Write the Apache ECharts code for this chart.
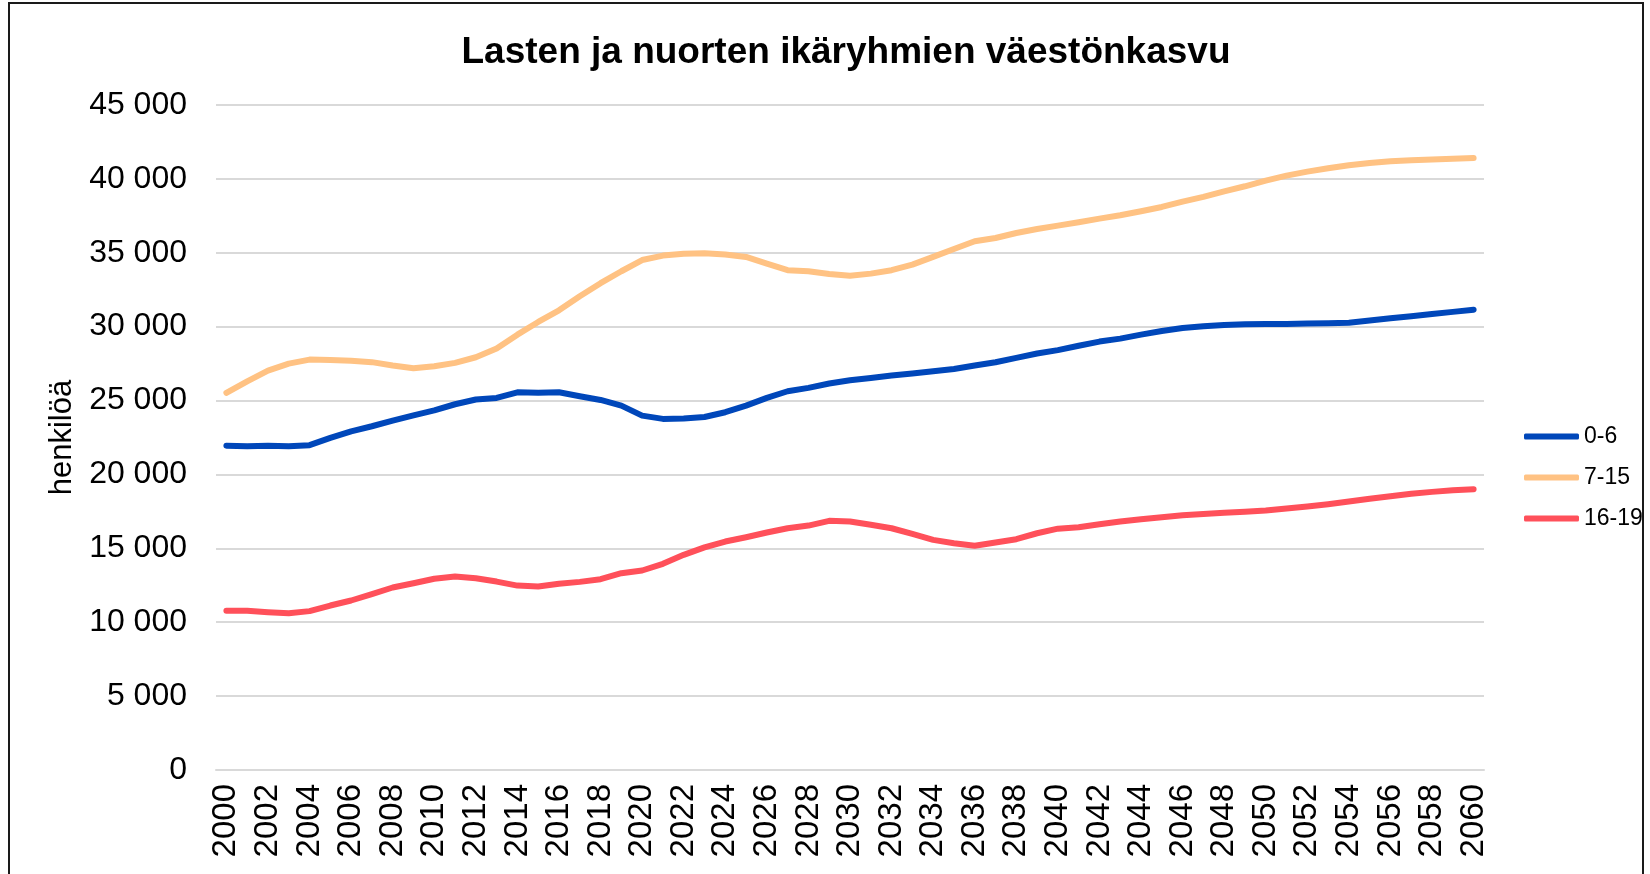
<!DOCTYPE html>
<html>
<head>
<meta charset="utf-8">
<script src="https://cdn.jsdelivr.net/npm/echarts@6/dist/echarts.min.js"></script>
<style>
  html, body { margin: 0; padding: 0; background: #fff; }
  #frame { position: absolute; left: 8px; top: 2px; width: 1636px; height: 900px; border: 2px solid #1a1a1a; box-sizing: border-box; }
  #main { position: absolute; left: 0; top: 0; width: 1650px; height: 874px; }
</style>
</head>
<body>
<div id="frame"></div>
<div id="main"></div>
<script>
// vuodet 2000-2060
var years = [];
for (var y = 2000; y <= 2060; y++) years.push(String(y));

var age0to6 = [
  21950, 21910, 21950, 21900, 21980, 22470, 22920, 23260, 23640, 24000,
  24340, 24750, 25070, 25180, 25560, 25520, 25560, 25290, 25040, 24660,
  23980, 23760, 23780, 23890, 24210, 24660, 25180, 25630, 25860, 26150,
  26370, 26530, 26690, 26830, 26980, 27140, 27370, 27590, 27890, 28180,
  28410, 28710, 28990, 29190, 29460, 29710, 29910, 30030, 30120, 30160,
  30180, 30180, 30210, 30230, 30270, 30410, 30570, 30700, 30860, 31000,
  31150
];
var age7to15 = [
  25520, 26300, 27030, 27500, 27770, 27750, 27700, 27600, 27370, 27190,
  27320, 27550, 27930, 28520, 29460, 30320, 31110, 32060, 32940, 33750,
  34510, 34810, 34940, 34970, 34880, 34720, 34270, 33820, 33750, 33570,
  33450, 33590, 33820, 34200, 34720, 35260, 35780, 36000, 36340, 36610,
  36840, 37060, 37310, 37540, 37810, 38100, 38460, 38780, 39160, 39500,
  39880, 40220, 40490, 40720, 40920, 41080, 41190, 41260, 41320, 41370,
  41410
];
var age16to19 = [
  10770, 10770, 10680, 10610, 10750, 11130, 11470, 11900, 12350, 12640,
  12940, 13090, 12980, 12750, 12480, 12420, 12600, 12730, 12910, 13320,
  13500, 13950, 14560, 15060, 15460, 15750, 16070, 16360, 16540, 16860,
  16810, 16590, 16360, 15980, 15570, 15350, 15170, 15390, 15620, 16020,
  16330, 16430, 16630, 16810, 16970, 17110, 17240, 17330, 17400, 17470,
  17560, 17690, 17830, 17990, 18170, 18350, 18530, 18690, 18820, 18930,
  19000
];

var seriesNames = ["0-6", "7-15", "16-19"];
var seriesColors = ["#0047BA", "#FFC283", "#FF505A"];
var font = "'Liberation Sans', Arial, sans-serif";

function fmt(v) {
  return String(v).replace(/\B(?=(\d{3})+(?!\d))/g, " ");
}

var myChart = echarts.init(document.getElementById("main"));
var option = {
  animation: false,
  title: {
    text: "Lasten ja nuorten ikäryhmien väestönkasvu",
    left: 841,
    top: 29,
    textAlign: "center",
    textStyle: { fontFamily: font, fontSize: 37, fontWeight: "bold", color: "#000" }
  },
  grid: { left: 216, right: 166, top: 105, bottom: 104 },
  legend: {
    orient: "vertical",
    left: 1519,
    top: 420,
    icon: "roundRect",
    itemWidth: 55,
    itemHeight: 6,
    itemGap: 18,
    data: seriesNames,
    textStyle: { fontFamily: font, fontSize: 23, color: "#000" }
  },
  xAxis: {
    type: "category",
    data: years,
    boundaryGap: true,
    axisLine: { lineStyle: { color: "#D9D9D9", width: 2 } },
    axisTick: { show: false },
    axisLabel: {
      interval: 1,
      rotate: 90,
      margin: 14,
      fontFamily: font,
      fontSize: 33,
      color: "#000"
    }
  },
  yAxis: {
    type: "value",
    min: 0,
    max: 45000,
    interval: 5000,
    name: "henkilöä",
    nameLocation: "middle",
    nameGap: 137,
    nameRotate: 90,
    nameTextStyle: { fontFamily: font, fontSize: 31, color: "#000" },
    axisLine: { show: false },
    axisTick: { show: false },
    axisLabel: { margin: 29, fontFamily: font, fontSize: 32, color: "#000", formatter: fmt },
    splitLine: { lineStyle: { color: "#D9D9D9", width: 2 } }
  },
  series: [
    { name: seriesNames[0], data: age0to6 },
    { name: seriesNames[1], data: age7to15 },
    { name: seriesNames[2], data: age16to19 }
  ].map(function (s, i) {
    return {
      name: s.name,
      type: "line",
      data: s.data,
      showSymbol: false,
      symbol: "none",
      color: seriesColors[i],
      lineStyle: { width: 6, color: seriesColors[i], cap: "round", join: "round" }
    };
  })
};
myChart.setOption(option);
</script>
</body>
</html>
